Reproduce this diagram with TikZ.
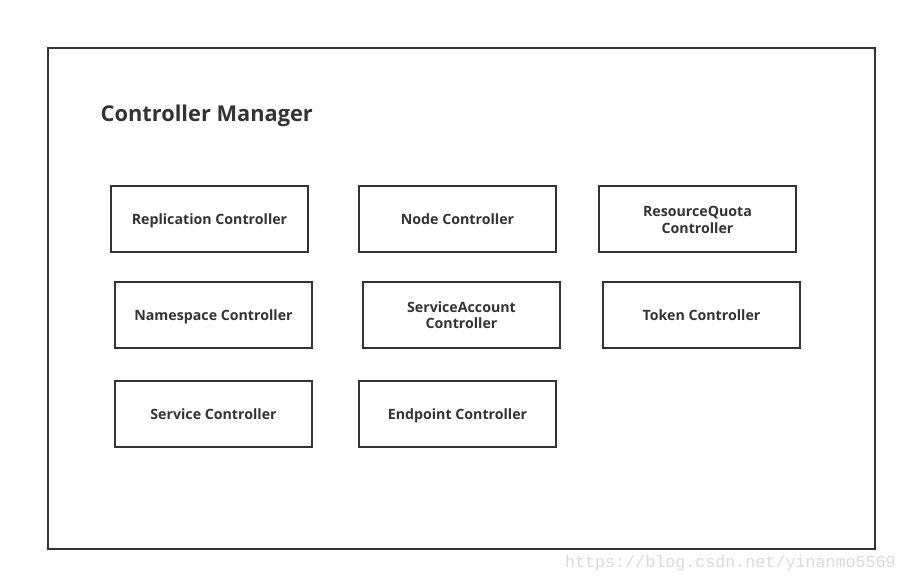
\documentclass[tikz,border=0pt]{standalone}
\usepackage{fontspec}
\setmainfont{Open Sans}
\newfontfamily\wmfont{Liberation Mono}
\definecolor{ink}{HTML}{333333}
\definecolor{wm}{HTML}{DADADA}
\newcommand\cstrut{\rule[-2.3pt]{0pt}{16pt}}
\begin{document}
\begin{tikzpicture}[x=1pt,y=-1pt,
  ctrl/.style={draw=ink,line width=2pt,minimum width=197pt,minimum height=66pt,inner sep=0pt,align=center,text=ink,font=\fontsize{14.2}{16}\selectfont\bfseries}]
\useasboundingbox (0,0) rectangle (907,582);
\node[draw=ink,line width=2pt,minimum width=827pt,minimum height=501pt,inner sep=0pt] (frame) at (461.5,298.5) {};
\node[anchor=west,text=ink,font=\fontsize{21.8}{24}\selectfont\bfseries,inner sep=0pt] (title) at (100.5,115.5) {Controller Manager};
\node[ctrl] (rep) at (209.5,219) {\cstrut Replication Controller};
\node[ctrl] (nodec) at (457.5,219) {\cstrut Node Controller};
\node[ctrl] (rq) at (697.5,219) {\cstrut ResourceQuota\\\cstrut Controller};
\node[ctrl] (ns) at (213.5,315) {\cstrut Namespace Controller};
\node[ctrl] (sa) at (461.5,315) {\cstrut ServiceAccount\\\cstrut Controller};
\node[ctrl] (tok) at (701.5,315) {\cstrut Token Controller};
\node[ctrl] (svc) at (213.5,414) {\cstrut Service Controller};
\node[ctrl] (ep) at (457.5,414) {\cstrut Endpoint Controller};
\node[anchor=east,inner sep=0pt,text=wm,font=\wmfont\fontsize{16.7}{18}\selectfont] (wmark) at (896,563) {https://blog.csdn.net/yinanmo5569};
\end{tikzpicture}
\end{document}
